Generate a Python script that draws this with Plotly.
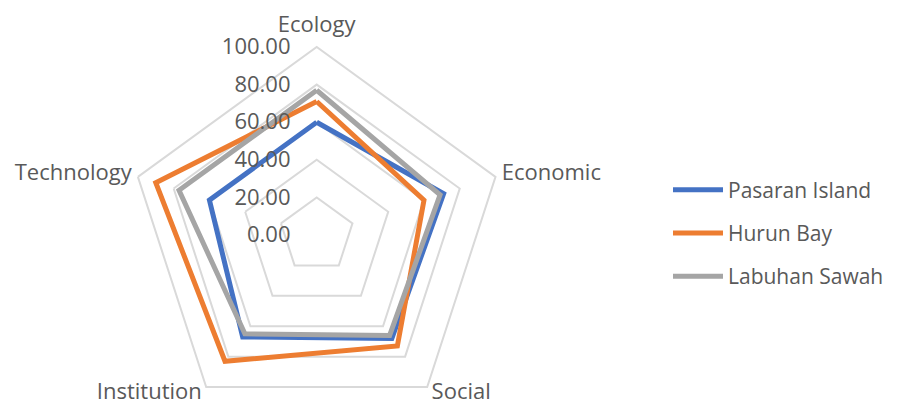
import plotly.graph_objects as go

categories = ["Ecology", "Economic", "Social", "Institution", "Technology"]
pasaran_island = [60, 71, 68, 67, 60]
hurun_bay = [71, 60, 73, 83, 90]
labuhan_sawah = [77, 69, 66, 65, 77]

series = [
    ("Pasaran Island", pasaran_island, "#4472C4"),
    ("Hurun Bay", hurun_bay, "#ED7D31"),
    ("Labuhan Sawah", labuhan_sawah, "#A5A5A5"),
]

# radial range runs a bit past 100 so the category labels can sit outside the last ring
r_max = 110
W, H = 901, 440
cx, cy = 308.7, 227
R = 188 * r_max / 100

fig = go.Figure()
for name, vals, color in series:
    fig.add_trace(go.Scatterpolar(
        r=vals + vals[:1],
        theta=categories + categories[:1],
        name=name,
        legendgroup=name,
        mode="lines",
        line=dict(color=color, width=5),
    ))

label_r = [105, 103.5, 104, 104, 103.5]
fig.add_trace(go.Scatterpolar(
    r=label_r,
    theta=categories,
    mode="text",
    text=categories,
    textposition=["top center", "middle right", "middle right", "middle left", "middle left"],
    textfont=dict(size=22, color="#595959"),
    cliponaxis=False,
    showlegend=False,
    hoverinfo="skip",
))

fig.update_layout(
    width=W, height=H,
    margin=dict(l=0, r=0, t=0, b=0),
    paper_bgcolor="white",
    font=dict(family="Open Sans", size=22, color="#595959"),
    polar=dict(
        domain=dict(x=[(cx - R) / W, (cx + R) / W],
                    y=[(H - cy - R) / H, (H - cy + R) / H]),
        gridshape="linear",
        bgcolor="white",
        angularaxis=dict(
            rotation=90, direction="clockwise",
            showgrid=False, showline=False,
            ticks="", showticklabels=False,
        ),
        radialaxis=dict(
            range=[0, r_max], tickvals=[0, 20, 40, 60, 80, 100], tickformat=".2f",
            angle=90, side="counterclockwise", tickangle=90,
            showline=False, ticks="outside", ticklen=18, tickcolor="rgba(0,0,0,0)",
            gridcolor="#D9D9D9", gridwidth=1.5,
        ),
    ),
    legend=dict(x=660 / W, y=1 - 225 / H, yanchor="middle", font=dict(size=21),
                tracegroupgap=13, itemwidth=50),
)

fig.write_html("out.html")
